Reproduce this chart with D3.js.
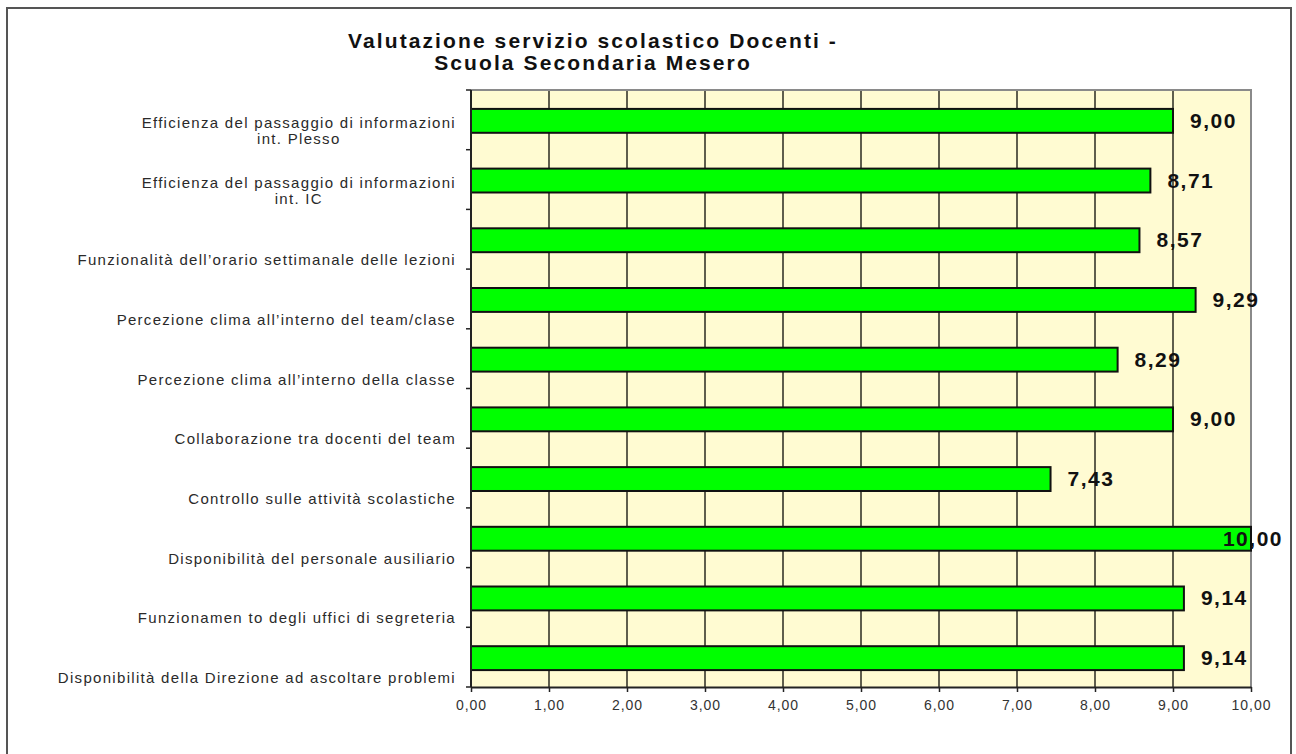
<!DOCTYPE html>
<html>
<head>
<meta charset="utf-8">
<script src="https://cdn.jsdelivr.net/npm/d3@7"></script>
<style>
  body { margin: 0; background: #fff; }
  svg { display: block; font-family: "Liberation Sans", Arial, sans-serif; }
</style>
</head>
<body>
<svg width="1296" height="754"></svg>
<script>
// chart data
const categories = [
  ["Efficienza del passaggio di informazioni", "int. Plesso"],
  ["Efficienza del passaggio di informazioni", "int. IC"],
  ["Funzionalità dell’orario settimanale delle lezioni"],
  ["Percezione clima all’interno del team/clase"],
  ["Percezione clima all’interno della classe"],
  ["Collaborazione tra docenti del team"],
  ["Controllo sulle attività scolastiche"],
  ["Disponibilità del personale ausiliario"],
  ["Funzionamen to degli uffici di segreteria"],
  ["Disponibilità della Direzione ad ascoltare problemi"]
];
const values = [9.00, 8.71, 8.57, 9.29, 8.29, 9.00, 7.43, 10.00, 9.14, 9.14];
const xTicks = [0, 1, 2, 3, 4, 5, 6, 7, 8, 9, 10];
const titleLines = ["Valutazione servizio scolastico Docenti -", "Scuola Secondaria Mesero"];

const fmt = v => v.toFixed(2).replace(".", ",");

const svg = d3.select("svg");
const plot = { left: 471, right: 1251, top: 90, bottom: 687 };
const frameRight = 1291;

// outer chart frame
svg.append("rect")
  .attr("x", 7).attr("y", 8)
  .attr("width", frameRight - 7).attr("height", 760)
  .attr("fill", "#fff")
  .attr("stroke", "#555").attr("stroke-width", 2);

// title
svg.append("g").selectAll("text")
  .data(titleLines)
  .enter().append("text")
  .attr("x", 593)
  .attr("y", (d, i) => 48 + i * 22)
  .attr("text-anchor", "middle")
  .attr("font-size", 21)
  .attr("font-weight", "bold")
  .attr("letter-spacing", 2.1)
  .attr("fill", "#111")
  .text(d => d);

const x = d3.scaleLinear().domain([0, 10]).range([plot.left, plot.right]);
const y = d3.scaleBand()
  .domain(d3.range(categories.length))
  .range([plot.top, plot.bottom])
  .paddingInner(0.6)
  .paddingOuter(0.3);
const step = y.step();

// plot background
svg.append("rect")
  .attr("x", plot.left).attr("y", plot.top)
  .attr("width", plot.right - plot.left).attr("height", plot.bottom - plot.top)
  .attr("fill", "#fffbd2");

// vertical gridlines
svg.append("g").selectAll("line")
  .data(xTicks.slice(1, -1))
  .enter().append("line")
  .attr("x1", d => x(d)).attr("x2", d => x(d))
  .attr("y1", plot.top).attr("y2", plot.bottom)
  .attr("stroke", "#2a2a20").attr("stroke-width", 1.5);

// plot border (top / right gray)
svg.append("path")
  .attr("d", `M${plot.left},${plot.top}H${plot.right}V${plot.bottom}`)
  .attr("fill", "none")
  .attr("stroke", "#8a8a8a").attr("stroke-width", 2);

// bars
svg.append("g").selectAll("rect")
  .data(values)
  .enter().append("rect")
  .attr("x", x(0))
  .attr("y", (d, i) => y(i) + 1)
  .attr("width", d => x(d) - x(0))
  .attr("height", y.bandwidth())
  .attr("fill", "#00ff00")
  .attr("stroke", "#111")
  .attr("stroke-width", 2);

// y axis
const yAxis = svg.append("g");
yAxis.append("line")
  .attr("x1", plot.left).attr("x2", plot.left)
  .attr("y1", plot.top).attr("y2", plot.bottom)
  .attr("stroke", "#222").attr("stroke-width", 2);
yAxis.selectAll("line.tick")
  .data(d3.range(categories.length + 1))
  .enter().append("line")
  .attr("class", "tick")
  .attr("x1", plot.left - 5).attr("x2", plot.left)
  .attr("y1", i => plot.top + i * step).attr("y2", i => plot.top + i * step)
  .attr("stroke", "#222").attr("stroke-width", 1.5);

// x axis
const xAxis = svg.append("g")
  .attr("transform", `translate(0,${plot.bottom})`)
  .call(d3.axisBottom(x).tickValues(xTicks).tickFormat(fmt).tickSize(5).tickSizeOuter(0));
xAxis.select(".domain").attr("stroke", "#222").attr("stroke-width", 2);
xAxis.selectAll(".tick line").attr("stroke", "#222").attr("stroke-width", 1.5);
xAxis.selectAll(".tick text")
  .attr("font-size", 14)
  .attr("letter-spacing", 1)
  .attr("font-family", "Liberation Sans, Arial, sans-serif")
  .attr("fill", "#333")
  .attr("dy", "1.05em");

// category labels
const labelRight = 456;
const cat = svg.append("g").selectAll("g")
  .data(categories)
  .enter().append("g")
  .attr("font-size", 15)
  .attr("letter-spacing", 1.3)
  .attr("fill", "#2a2a2a");
cat.each(function (lines, i) {
  const g = d3.select(this);
  const cy = y(i) + y.bandwidth() / 2;
  if (lines.length === 1) {
    g.append("text")
      .attr("x", labelRight).attr("y", cy + 26)
      .attr("text-anchor", "end")
      .text(lines[0]);
  } else {
    const t1 = g.append("text")
      .attr("x", labelRight).attr("y", cy + 8)
      .attr("text-anchor", "end")
      .text(lines[0]);
    const w = t1.node().getComputedTextLength();
    g.append("text")
      .attr("x", labelRight - w / 2).attr("y", cy + 24)
      .attr("text-anchor", "middle")
      .text(lines[1]);
  }
});

// value labels
svg.append("g").selectAll("text")
  .data(values)
  .enter().append("text")
  .attr("y", (d, i) => y(i) + y.bandwidth() / 2 + 8)
  .attr("font-size", 21)
  .attr("font-weight", "bold")
  .attr("letter-spacing", 1.5)
  .attr("fill", "#111")
  .text(fmt)
  .attr("x", function (d) {
    const w = this.getComputedTextLength();
    return Math.min(x(d) + 17, frameRight - 8 - w);
  });
</script>
</body>
</html>
